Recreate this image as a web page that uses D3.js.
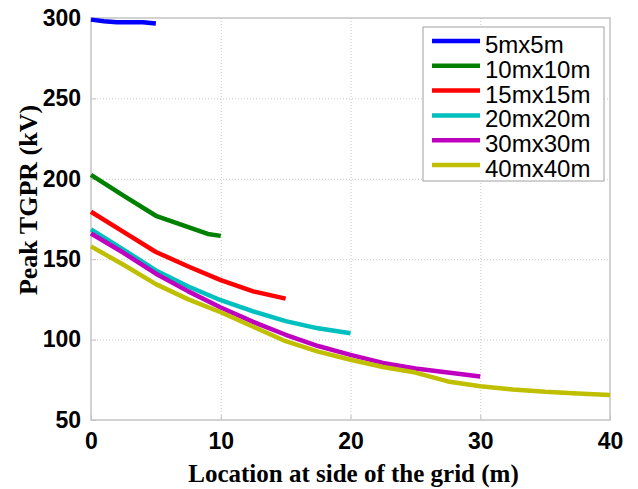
<!DOCTYPE html>
<html>
<head>
<meta charset="utf-8">
<script src="https://cdn.jsdelivr.net/npm/d3@7"></script>
<style>
  body { margin: 0; background: #fff; }
  svg { display: block; }
</style>
</head>
<body>
<div id="chart"></div>
<script>
// series names and colours (MATLAB default-ish palette)
const seriesNames = ["5mx5m", "10mx10m", "15mx15m", "20mx20m", "30mx30m", "40mx40m"];
const seriesColors = ["#0000ff", "#008000", "#ff0000", "#00bfbf", "#bf00bf", "#bfbf00"];

// location along the side of the grid (m)
const x5 = [0, 1, 2, 3, 4, 5];
const x10 = [0, 2.5, 5, 7.5, 9, 10];
const x15 = [0, 2.5, 5, 7.5, 10, 12.5, 15];
const x20 = [0, 2.5, 5, 7.5, 10, 12.5, 15, 17.5, 20];
const x30 = [0, 2.5, 5, 7.5, 10, 12.5, 15, 17.5, 20, 22.5, 25, 27.5, 30];
const x40 = [0, 2.5, 5, 7.5, 10, 12.5, 15, 17.5, 20, 22.5, 25, 27.5, 30, 32.5, 35, 37.5, 40];

// peak TGPR (kV)
const y5 = [299, 298, 297.4, 297.4, 297.3, 296.6];
const y10 = [202.5, 189.5, 177, 170, 165.7, 164.5];
const y15 = [179.5, 167, 154.5, 145.5, 137, 130, 125.5];
const y20 = [168.5, 156, 143, 133, 124.5, 117.5, 111.5, 107, 104];
const y30 = [166, 154, 141, 130, 120, 111, 103, 96, 90.5, 85.5, 82, 79.5, 77];
const y40 = [158, 146.5, 134.5, 125, 117, 108, 99, 92.5, 87.5, 83, 79.5, 74, 71, 69, 67.5, 66.5, 65.5];

const xTicks = [0, 10, 20, 30, 40];
const yTicks = [50, 100, 150, 200, 250, 300];

const xs = [x5, x10, x15, x20, x30, x40];
const ys = [y5, y10, y15, y20, y30, y40];
const series = seriesNames.map((name, i) => ({
    name,
    color: seriesColors[i],
    values: xs[i].map((x, j) => ({x, y: ys[i][j]}))
}));

const width = 638, height = 489;
const margin = {top: 18, right: 28, bottom: 69, left: 91};

const x = d3.scaleLinear().domain([0, 40]).range([margin.left, width - margin.right]);
const y = d3.scaleLinear().domain([50, 300]).range([height - margin.bottom, margin.top]);

const svg = d3.select("#chart").append("svg")
    .attr("width", width)
    .attr("height", height)
    .attr("viewBox", [0, 0, width, height]);

const axisColor = "#c4c4c4";

// dotted grid
svg.append("g")
    .attr("stroke", "#c8c8c8")
    .attr("stroke-width", 1)
    .attr("stroke-dasharray", "1,2")
    .call(g => g.selectAll(".gx")
        .data(xTicks.slice(1, -1))
        .join("line")
        .attr("x1", d => x(d) + 0.5).attr("x2", d => x(d) + 0.5)
        .attr("y1", y(300)).attr("y2", y(50)))
    .call(g => g.selectAll(".gy")
        .data(yTicks.slice(1, -1))
        .join("line")
        .attr("y1", d => y(d) + 0.5).attr("y2", d => y(d) + 0.5)
        .attr("x1", x(0)).attr("x2", x(40)));

// box
svg.append("rect")
    .attr("x", x(0)).attr("y", y(300))
    .attr("width", x(40) - x(0)).attr("height", y(50) - y(300))
    .attr("fill", "none")
    .attr("stroke", axisColor)
    .attr("stroke-width", 1.5);

// axes with inward ticks
const tickFont = "bold 23px 'Liberation Sans', Arial, sans-serif";
svg.append("g")
    .attr("transform", `translate(0,${y(50)})`)
    .call(d3.axisBottom(x).tickValues(xTicks).tickSize(-5).tickPadding(13))
    .call(g => g.select(".domain").remove())
    .call(g => g.selectAll(".tick line").attr("stroke", axisColor))
    .call(g => g.selectAll(".tick text")
        .style("font", tickFont).attr("fill", "#000"));

svg.append("g")
    .attr("transform", `translate(${x(0)},0)`)
    .call(d3.axisLeft(y).tickValues(yTicks).tickSize(-5).tickPadding(10))
    .call(g => g.select(".domain").remove())
    .call(g => g.selectAll(".tick line").attr("stroke", axisColor))
    .call(g => g.selectAll(".tick text")
        .style("font", tickFont).attr("fill", "#000"));

// series lines
const line = d3.line().x(d => x(d.x)).y(d => y(d.y));
svg.append("g")
    .attr("fill", "none")
    .attr("stroke-width", 4.5)
    .attr("stroke-linejoin", "round")
    .selectAll("path")
    .data(series)
    .join("path")
    .attr("stroke", d => d.color)
    .attr("d", d => line(d.values));

// axis titles
const titleFont = "'Liberation Serif', 'Times New Roman', serif";
svg.append("text")
    .attr("x", (x(0) + x(40)) / 2 + 3)
    .attr("y", 482)
    .attr("text-anchor", "middle")
    .style("font-family", titleFont)
    .style("font-weight", "bold")
    .style("font-size", "25px")
    .text("Location at side of the grid (m)");

svg.append("text")
    .attr("transform", "translate(37,200) rotate(-90)")
    .attr("text-anchor", "middle")
    .style("font-family", titleFont)
    .style("font-weight", "bold")
    .style("font-size", "26px")
    .text("Peak TGPR (kV)");

// legend
const legend = svg.append("g").attr("transform", "translate(423,27)");
legend.append("rect")
    .attr("width", 181).attr("height", 154)
    .attr("fill", "#fff")
    .attr("stroke", "#a0a0a0")
    .attr("stroke-width", 1);
const item = legend.selectAll(".item")
    .data(series)
    .join("g")
    .attr("transform", (d, i) => `translate(0,${14 + i * 24.8})`);
item.append("line")
    .attr("x1", 9).attr("x2", 57)
    .attr("stroke", d => d.color)
    .attr("stroke-width", 4.5);
item.append("text")
    .attr("x", 62).attr("y", 12)
    .style("font", "24px 'Liberation Sans', Arial, sans-serif")
    .attr("fill", "#000")
    .text(d => d.name);
</script>
</body>
</html>
